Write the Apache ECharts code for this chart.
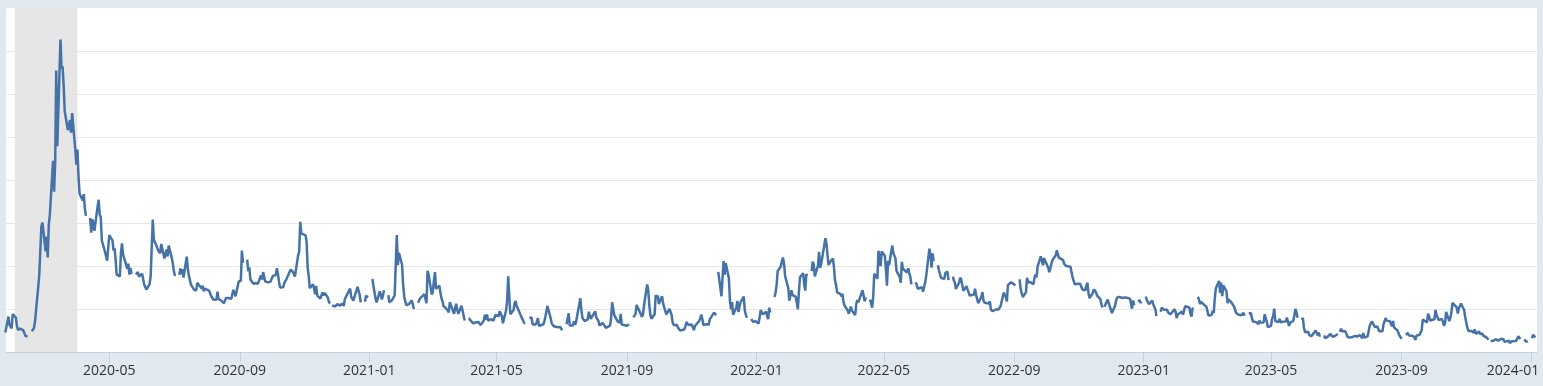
<!DOCTYPE html>
<html>
<head>
<meta charset="utf-8">
<script src="https://cdn.jsdelivr.net/npm/echarts@6/dist/echarts.min.js"></script>
<style>
html,body{margin:0;padding:0;background:#e1e9f0;}
#c{width:1543px;height:386px;}
</style>
</head>
<body>
<div id="c"></div>
<script>
// Daily closing values (business days, null = market holiday), one sub-array per month
const firstDate = '2020-01-24';
const vix2020 = [
  [14.56,18.23,16.28,16.39,15.49,18.84],
  [17.97,16.05,15.15,14.96,15.47,15.04,15.18,13.74,14.15,13.68,null,14.83,14.38,15.56,17.08,25.03,27.85,27.56,39.16,40.11],
  [33.42,36.82,31.99,39.62,41.94,54.46,47.30,53.90,75.47,57.83,82.69,75.91,76.45,72.00,66.04,61.59,61.67,63.95,61.00,65.54,57.08,53.54],
  [57.06,50.91,46.80,45.24,46.70,43.35,41.67,null,41.17,37.76,40.84,40.11,38.15,43.83,45.41,41.98,41.38,35.93,33.29,33.57,31.23,34.15],
  [37.19,35.97,33.61,34.12,31.44,27.98,27.57,33.04,35.28,32.61,31.89,29.30,30.53,27.99,29.53,28.16,null,28.01,27.62,28.59,27.51],
  [28.23,26.84,25.66,25.81,24.52,25.81,27.57,27.57,40.79,36.09,34.40,33.67,33.47,32.94,35.12,31.77,31.37,33.84,32.22,34.73,31.78,30.43],
  [28.62,27.68,null,27.94,29.43,28.08,29.26,27.29,32.19,29.52,27.76,28.00,25.68,24.46,24.84,24.32,26.08,25.84,24.74,25.44,24.10,24.76,24.46],
  [24.28,23.76,23.00,22.65,22.21,22.13,24.03,22.28,22.13,22.05,21.35,21.51,22.54,22.72,22.54,22.37,22.03,24.47,24.47,22.96,26.41],
  [26.12,26.57,33.60,30.75,null,31.46,28.81,29.71,26.87,25.85,25.59,26.04,26.46,25.83,27.78,26.86,28.58,28.51,26.38,26.19,26.27,26.37],
  [26.70,27.63,27.96,29.48,28.06,26.36,25.00,25.07,26.07,26.40,26.97,27.41,29.18,29.35,28.65,28.11,27.55,32.46,33.35,40.28,37.59,38.02],
  [37.13,35.55,29.57,27.58,24.86,25.75,24.80,23.45,25.35,23.10,22.45,22.71,23.84,23.11,23.70,22.66,21.64,21.25,null,20.84,20.57],
  [20.77,21.17,21.28,20.79,21.30,20.68,22.27,22.52,23.31,24.72,22.89,22.50,21.93,21.57,25.16,24.23,23.31,21.53,null,21.70,23.08,22.77,22.75]
];
const vix2021 = [
  [null,26.97,25.34,25.07,22.37,21.56,24.08,23.33,22.21,23.25,24.34,null,23.24,21.58,21.32,21.91,23.19,23.02,37.21,30.21,33.09],
  [30.24,25.56,22.91,21.77,20.87,21.24,21.63,21.99,21.25,19.97,null,21.46,21.50,22.49,22.05,23.45,23.11,21.34,28.89,27.95],
  [23.35,24.10,26.67,28.57,24.66,25.47,24.03,22.56,21.91,20.69,20.03,19.79,19.23,21.58,20.95,18.88,20.30,21.20,19.81,18.86,20.74,19.61,19.40],
  [17.33,null,17.91,18.12,17.16,16.95,16.69,16.91,16.65,16.99,16.57,16.25,17.30,18.68,17.50,18.71,17.33,17.64,17.56,17.28,17.61,18.61],
  [18.31,19.48,19.15,18.39,16.69,19.66,21.84,27.59,23.13,18.81,19.72,21.34,21.84,20.67,20.15,18.40,18.84,17.36,16.74,16.76,null],
  [17.90,17.48,18.04,16.42,16.42,17.07,17.89,16.10,15.65,16.39,17.02,18.15,17.75,20.70,17.89,16.66,16.32,15.97,15.62,15.76,16.02,15.83],
  [15.48,15.07,null,16.44,16.20,19.00,16.18,16.17,17.12,16.33,17.01,18.45,22.50,19.73,17.91,17.69,17.20,17.58,19.36,18.31,17.70,18.24],
  [19.46,18.04,17.97,17.28,16.15,16.72,16.79,16.06,15.59,15.45,16.12,17.91,21.57,21.67,18.56,17.15,17.22,16.79,18.84,16.39,16.24,16.48],
  [16.11,16.41,16.41,null,18.04,18.49,18.80,20.95,19.37,19.46,18.18,18.69,20.81,25.71,24.36,20.87,18.63,17.75,18.76,23.25,22.56,23.14],
  [21.15,22.96,21.30,21.00,19.54,18.77,20.00,19.85,18.64,16.86,16.30,16.30,15.70,15.49,15.01,15.43,15.24,15.98,16.98,16.53,16.26],
  [16.41,16.03,15.10,16.04,16.48,17.22,17.78,18.73,17.66,16.29,16.49,16.37,16.33,17.59,17.91,19.17,19.38,18.58,null,28.62,22.96,27.19],
  [31.12,27.95,30.67,27.18,21.89,19.90,21.58,18.69,20.31,21.89,19.29,20.57,21.57,22.87,19.70,18.63,17.96,null,17.68,17.54,16.95,17.33,17.22]
];
const vix2022 = [
  [16.60,16.91,19.73,19.61,18.76,19.40,18.41,17.62,20.31,19.19,null,22.79,23.85,25.59,28.85,29.90,31.16,31.96,30.49,27.66,24.83],
  [21.96,22.09,24.35,23.22,22.86,21.44,19.96,23.91,27.36,28.33,25.70,24.29,28.11,27.75,null,28.81,31.02,30.32,27.59,30.15],
  [33.32,29.57,30.48,31.98,36.45,35.13,32.45,30.23,30.75,31.77,29.83,26.67,25.67,23.87,23.53,22.94,23.57,21.67,20.81,19.63,18.90,19.33,20.56],
  [19.63,18.57,21.03,22.10,21.55,21.16,24.37,24.26,21.82,22.70,null,22.17,21.37,20.32,22.68,28.21,27.02,33.52,31.60,29.99,33.40],
  [32.34,29.25,25.42,31.20,30.19,34.75,32.99,32.56,31.77,28.87,27.47,26.10,30.96,29.35,29.43,28.48,29.45,28.37,27.50,25.72,null,26.19],
  [25.69,24.72,24.79,25.07,24.02,23.96,26.09,27.75,34.02,32.69,29.62,32.95,31.13,null,30.19,28.95,29.05,27.23,26.95,28.36,28.16,28.71],
  [26.70,null,27.54,26.73,26.08,24.64,26.17,27.29,26.82,26.40,24.23,25.30,24.50,23.88,23.11,23.03,23.36,24.69,23.24,22.33,21.33],
  [22.84,23.93,21.95,21.44,21.15,21.29,21.77,19.74,20.20,19.53,19.95,19.69,19.90,19.56,20.60,23.80,24.11,22.82,21.78,25.56,26.21,26.21,25.87],
  [25.56,25.47,null,26.91,24.64,23.61,22.79,23.87,27.27,26.16,26.27,26.30,25.76,27.16,27.99,27.35,29.92,32.26,32.60,30.18,31.84,31.62],
  [29.59,28.55,28.55,30.52,31.36,32.45,33.63,33.57,31.94,32.02,31.37,30.50,30.76,29.98,29.69,29.85,28.46,27.28,27.39,25.75,25.88],
  [25.81,25.86,25.30,24.55,24.35,25.54,26.09,23.53,22.52,23.73,24.54,24.11,23.93,23.12,22.36,21.24,20.35,null,20.50,22.21,21.89,20.58],
  [19.84,19.06,20.75,22.01,22.68,22.29,22.83,22.55,22.55,22.70,22.83,22.62,22.42,21.97,20.07,21.97,20.87,null,21.65,22.14,21.44,21.67]
];
const vix2023 = [
  [null,22.90,22.01,22.46,21.13,21.97,21.07,21.09,19.91,18.35,null,19.36,20.34,20.52,19.85,19.81,19.20,19.08,18.73,18.51,19.94,19.40],
  [17.87,18.73,18.33,19.43,18.66,19.63,20.63,20.53,20.34,18.91,18.23,20.17,20.02,null,22.87,22.29,21.14,21.67,20.95,20.70],
  [20.58,19.59,18.49,18.61,19.59,19.11,22.61,24.80,26.52,23.73,26.14,22.99,25.51,24.12,21.38,22.26,22.61,21.74,20.60,19.97,19.12,19.08,18.70],
  [18.55,19.00,19.08,18.40,null,18.97,18.97,19.09,17.80,17.07,16.95,16.83,16.46,17.30,16.77,16.89,18.76,18.84,17.03,15.78],
  [16.08,17.78,18.34,20.09,17.19,16.98,17.71,16.94,16.93,17.03,17.12,17.99,16.87,16.05,16.81,17.21,18.53,20.03,19.14,17.95,null,17.46,17.94],
  [15.65,14.60,14.73,13.96,13.94,13.65,13.83,15.01,14.61,13.88,14.50,13.54,null,13.88,13.20,12.91,13.44,14.25,13.74,13.43,13.54,13.59],
  [14.18,null,14.69,15.44,14.83,14.84,14.26,13.54,13.61,13.34,13.48,13.30,13.76,13.99,13.60,13.91,13.86,13.19,14.41,13.33,13.63],
  [13.93,16.09,15.92,17.10,15.77,15.99,15.96,15.85,14.84,14.82,16.46,16.78,17.89,17.30,17.13,16.97,15.98,17.20,15.68,15.08,14.45,13.88,13.57],
  [13.09,null,14.02,14.45,14.40,13.84,13.80,14.23,13.48,12.82,13.79,14.00,14.11,15.14,17.54,17.20,16.90,18.94,18.22,17.34,17.52],
  [17.61,19.78,18.58,18.49,17.45,17.70,17.03,16.09,16.69,19.32,17.21,17.88,19.22,21.40,21.71,20.37,18.97,20.19,20.68,21.27,19.75,18.14],
  [16.87,15.66,14.91,14.89,14.81,14.45,15.29,14.17,14.76,14.16,14.18,14.32,13.80,13.41,13.35,12.85,null,12.46,12.69,12.69,12.98,12.92],
  [12.63,13.08,12.85,12.97,12.35,12.35,12.63,12.07,12.19,12.48,12.28,12.56,12.53,13.67,13.65,13.03,null,12.99,12.43,12.47,12.45]
];
const vix2024 = [
  [null,13.20,14.04,14.13,13.35]
];
const tickLabels = ['2020-05','2020-09','2021-01','2021-05','2021-09','2022-01','2022-05','2022-09','2023-01','2023-05','2023-09','2024-01'];
const recession = ['2020-02-02','2020-04-01'];

function pad(n){ return n < 10 ? '0' + n : '' + n; }
function dayTime(s){ return new Date(+s.slice(0,4), +s.slice(5,7) - 1, +s.slice(8,10)).getTime(); }
function buildSeries(year, months){
  const out = [];
  months.forEach(function(vals, m){
    const days = [];
    const dim = new Date(Date.UTC(year, m + 1, 0)).getUTCDate();
    for (let d = 1; d <= dim; d++) {
      const wd = new Date(Date.UTC(year, m, d)).getUTCDay();
      if (wd === 0 || wd === 6) continue;
      const s = year + '-' + pad(m + 1) + '-' + pad(d);
      if (s < firstDate) continue;
      days.push(s);
    }
    days.forEach(function(s, i){ out.push([dayTime(s), i < vals.length ? vals[i] : null]); });
  });
  return out;
}
const seriesData = [].concat(
  buildSeries(2020, vix2020),
  buildSeries(2021, vix2021),
  buildSeries(2022, vix2022),
  buildSeries(2023, vix2023),
  buildSeries(2024, vix2024)
);
const tickValues = tickLabels.map(function(s){ return dayTime(s + '-01'); });
const lastLabel = tickLabels[tickLabels.length - 1];

const chart = echarts.init(document.getElementById('c'), null, {renderer: 'canvas'});
chart.setOption({
  animation: false,
  backgroundColor: '#e1e9f0',
  grid: {
    left: 6, right: 6, top: 8, bottom: 34,
    outerBoundsMode: 'none',
    containLabel: false,
    show: true, backgroundColor: '#ffffff', borderWidth: 0
  },
  xAxis: {
    type: 'value',
    min: new Date(2020, 0, 24, 16).getTime(),
    max: new Date(2024, 0, 6, 16).getTime(),
    axisLine: { show: true, lineStyle: { color: '#c5d1dd', width: 1 } },
    axisTick: { show: true, length: 10, lineStyle: { color: '#c5d1dd', width: 1 }, customValues: tickValues },
    axisLabel: {
      customValues: tickValues,
      margin: 12,
      color: '#333333',
      fontFamily: 'Open Sans',
      fontSize: 14,
      hideOverlap: false,
      formatter: function(v){
        const d = new Date(v);
        const s = d.getFullYear() + '-' + pad(d.getMonth() + 1);
        return s === lastLabel ? '{last|' + s + '}' : s;
      },
      rich: {
        last: { padding: [0, 36, 0, 0], color: '#333333', fontFamily: 'Open Sans', fontSize: 14 }
      }
    },
    splitLine: { show: false }
  },
  yAxis: {
    type: 'value',
    min: 10, max: 90, interval: 10,
    axisLine: { show: false },
    axisTick: { show: false },
    axisLabel: { show: false },
    splitLine: { show: true, showMaxLine: false, lineStyle: { color: '#e6e6e6', width: 1 } }
  },
  series: [{
    type: 'line',
    data: seriesData,
    showSymbol: false,
    symbol: 'none',
    connectNulls: false,
    lineStyle: { color: '#4572a7', width: 2.5 },
    itemStyle: { color: '#4572a7' },
    z: 3,
    markArea: {
      silent: true,
      z: 1,
      itemStyle: { color: '#e6e6e6', opacity: 1 },
      data: [[{ xAxis: dayTime(recession[0]) }, { xAxis: dayTime(recession[1]) }]]
    }
  }]
});
</script>
</body>
</html>
